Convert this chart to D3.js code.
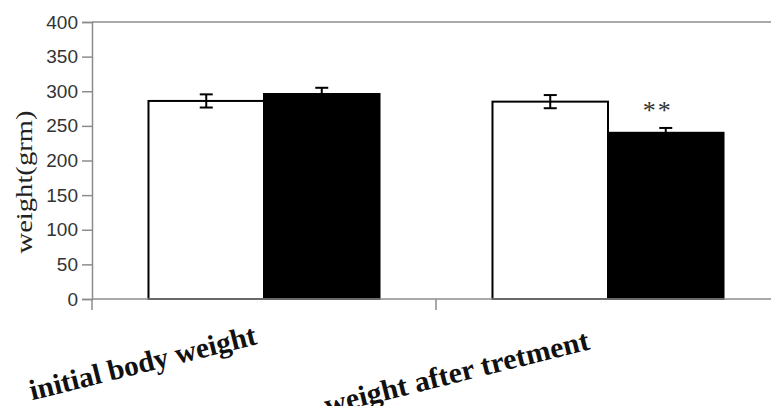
<!DOCTYPE html>
<html>
<head>
<meta charset="utf-8">
<script src="https://cdn.jsdelivr.net/npm/d3@7"></script>
<style>
  body { margin: 0; background: #fff; }
  svg { display: block; }
</style>
</head>
<body>
<svg id="chart" width="771" height="406"></svg>
<script>
// data
var categories = ["initial body weight", "weight after tretment"];
var groups = ["control", "treated"];
var means = [[286, 296], [285, 240]];
var errors = [[9.5, 9], [9.5, 7]];
var signif = ["", "**"];
var yTicks = [0, 50, 100, 150, 200, 250, 300, 350, 400];

var svg = d3.select("#chart");

var margin = {left: 92, top: 22, bottom: 299, right: 780};
var serif = "'Liberation Serif', 'Times New Roman', serif";

var x = d3.scaleBand()
    .domain(categories)
    .range([margin.left, margin.right])
    .padding(0);

var xSub = d3.scaleBand()
    .domain(groups)
    .range([0, x.bandwidth()])
    .paddingInner(0)
    .paddingOuter(0.489);

var y = d3.scaleLinear()
    .domain([0, 400])
    .range([margin.bottom, margin.top]);

var fills = {control: "#fff", treated: "#000"};
var axisColor = "#8c8c8c";

// top border line
svg.append("line")
    .attr("x1", margin.left).attr("x2", 771)
    .attr("y1", y(400)).attr("y2", y(400))
    .attr("stroke", axisColor)
    .attr("stroke-width", 1.5);

// Y axis
var yAxis = svg.append("g")
    .attr("transform", "translate(" + margin.left + ",0)")
    .call(d3.axisLeft(y).tickValues(yTicks).tickSize(10).tickPadding(4));
yAxis.select(".domain").attr("stroke", axisColor).attr("stroke-width", 1.5);
yAxis.selectAll(".tick line").attr("stroke", axisColor).attr("stroke-width", 1.5);
yAxis.selectAll(".tick text")
    .attr("fill", "#333")
    .attr("font-family", "'Liberation Sans', Arial, sans-serif")
    .attr("font-size", "19px");

// y title
svg.append("text")
    .attr("transform", "translate(32," + 182 + ") rotate(-90)")
    .attr("text-anchor", "middle")
    .attr("font-family", serif)
    .attr("font-size", "23px")
    .attr("fill", "#222")
    .attr("textLength", 143)
    .attr("lengthAdjust", "spacingAndGlyphs")
    .text("weight(grm)");

// bars
var cat = svg.selectAll(".cat")
    .data(categories)
    .enter().append("g")
    .attr("class", "cat")
    .attr("transform", function(d) { return "translate(" + x(d) + ",0)"; });

function rows(d, i) {
    return groups.map(function(g, j) { return {g: g, v: means[i][j], e: errors[i][j]}; });
}

cat.selectAll("rect")
    .data(rows)
    .enter().append("rect")
    .attr("x", function(d) { return xSub(d.g); })
    .attr("y", function(d) { return y(d.v); })
    .attr("width", xSub.bandwidth())
    .attr("height", function(d) { return y(0) - y(d.v); })
    .attr("fill", function(d) { return fills[d.g]; })
    .attr("stroke", "#000")
    .attr("stroke-width", 2);

// error bars
var capW = 6.5;
function cx(d) { return xSub(d.g) + xSub.bandwidth() / 2; }
var err = cat.selectAll(".err")
    .data(rows)
    .enter().append("g")
    .attr("class", "err")
    .attr("stroke", "#000")
    .attr("stroke-width", 2);
err.append("line")
    .attr("x1", cx)
    .attr("x2", cx)
    .attr("y1", function(d) { return y(d.v + d.e); })
    .attr("y2", function(d) { return y(d.v - d.e); });
err.append("line")
    .attr("x1", function(d) { return cx(d) - capW; })
    .attr("x2", function(d) { return cx(d) + capW; })
    .attr("y1", function(d) { return y(d.v + d.e); })
    .attr("y2", function(d) { return y(d.v + d.e); });
err.append("line")
    .attr("x1", function(d) { return cx(d) - capW; })
    .attr("x2", function(d) { return cx(d) + capW; })
    .attr("y1", function(d) { return y(d.v - d.e); })
    .attr("y2", function(d) { return y(d.v - d.e); })
    .attr("stroke", function(d) { return d.g == "treated" ? "none" : "#000"; });

// significance marks above treated bar
cat.append("text")
    .attr("x", xSub("treated") + xSub.bandwidth() / 2 - 8)
    .attr("y", function(d, i) { return y(means[i][1] + errors[i][1]) - 9; })
    .attr("text-anchor", "middle")
    .attr("font-family", serif)
    .attr("font-size", "26px")
    .attr("letter-spacing", "2px")
    .attr("fill", "#333")
    .text(function(d, i) { return signif[i]; });

// X axis
svg.append("line")
    .attr("x1", margin.left).attr("x2", margin.right)
    .attr("y1", y(0)).attr("y2", y(0))
    .attr("stroke", axisColor)
    .attr("stroke-width", 1.5);
svg.selectAll(".xtick")
    .data(categories)
    .enter().append("line")
    .attr("class", "xtick")
    .attr("x1", function(d) { return x(d); })
    .attr("x2", function(d) { return x(d); })
    .attr("y1", y(0))
    .attr("y2", y(0) + 11)
    .attr("stroke", axisColor)
    .attr("stroke-width", 1.5);

// rotated category labels: [dx, dy, length, angle]
var labelShift = [[-6, 45, 233, -14], [-17, 50, 272, -14]];
svg.selectAll(".xlabel")
    .data(categories)
    .enter().append("text")
    .attr("class", "xlabel")
    .attr("transform", function(d, i) {
        return "translate(" + (x(d) + x.bandwidth() / 2 + labelShift[i][0]) + "," + (y(0) + labelShift[i][1]) + ") rotate(" + labelShift[i][3] + ")";
    })
    .attr("text-anchor", "end")
    .attr("font-family", serif)
    .attr("font-weight", "bold")
    .attr("font-size", "29px")
    .attr("fill", "#111")
    .attr("textLength", function(d, i) { return labelShift[i][2]; })
    .attr("lengthAdjust", "spacingAndGlyphs")
    .text(function(d) { return d; });
</script>
</body>
</html>
